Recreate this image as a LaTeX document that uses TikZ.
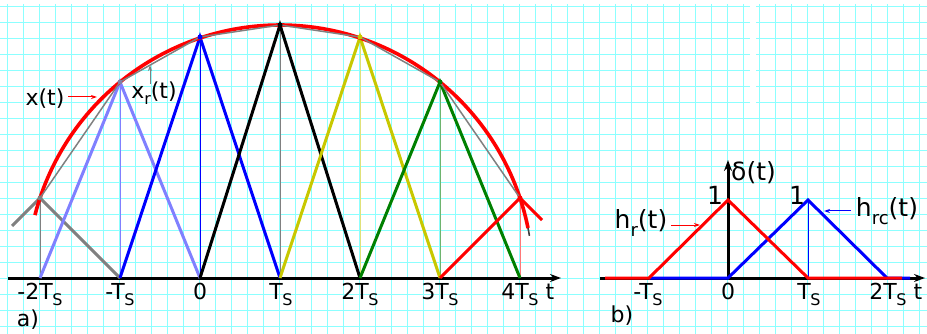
\documentclass[tikz,border=0pt]{standalone}
\usepackage{fontspec}
\setmainfont{DejaVu Sans}
\usetikzlibrary{arrows.meta}
\newcommand\mysub[1]{\raisebox{-0.3em}{\fontsize{16}{16}\selectfont #1}}
\newcommand\mysubb[1]{\raisebox{-0.3em}{\fontsize{18}{18}\selectfont #1}}
\newcommand\TS{T\kern-0.5pt\mysub{S}}
\definecolor{gridc}{RGB}{140,255,255}
\definecolor{lblue}{RGB}{128,128,255}
\definecolor{olivey}{RGB}{200,200,0}
\definecolor{lolive}{RGB}{225,225,120}
\definecolor{dgreen}{RGB}{0,128,0}
\definecolor{lgreen}{RGB}{110,180,110}
\definecolor{lred}{RGB}{255,120,120}
\begin{document}
\begin{tikzpicture}[x=1pt,y=-1pt,
  every node/.style={font=\fontsize{22}{26}\selectfont, inner sep=0pt},
  big/.style={font=\fontsize{25}{29}\selectfont},
  gridline/.style={gridc, line width=1.2pt},
  tri/.style={line width=3pt, line join=miter},
  thinv/.style={line width=0.9pt},
  axis/.style={line width=3pt, -{Stealth[length=11pt,width=8pt]}},
  ptr/.style={line width=1pt, -{Stealth[length=6pt,width=4pt]}},
  dot/.style={circle, fill, inner sep=0pt, minimum size=5pt}]
\useasboundingbox (0,0) rectangle (927,334);
\fill[white] (0,0) rectangle (927,334);
% grid
\foreach \i in {0,...,57} \draw[gridline] ({7.5+16*\i},4) -- ({7.5+16*\i},334);
\foreach \j in {0,...,20} \draw[gridline] (0,{6.5+16*\j}) -- (927,{6.5+16*\j});
\fill[white] (750,0) rectangle (756,110);

% ---------- panel a ----------
\coordinate (sm2) at (40,198);
\coordinate (sm1) at (120,82);
\coordinate (s0) at (200,37);
\coordinate (s1) at (280,25);
\coordinate (s2) at (360,37);
\coordinate (s3) at (440,82);
\coordinate (s4) at (520,198);
\coordinate (bm2) at (40,278);
\coordinate (bm1) at (120,278);
\coordinate (b0) at (200,278);
\coordinate (b1) at (280,278);
\coordinate (b2) at (360,278);
\coordinate (b3) at (440,278);
\coordinate (b4) at (520,278);
\coordinate (gL) at (12,226);
\coordinate (rE) at (542,220);
\coordinate (axL) at (8,278);
\coordinate (axR) at (561,278);

\draw[axis] (axL) -- (axR);

\draw[thinv, gray] (bm2) -- (sm2);
\draw[thinv, lblue] (bm1) -- (sm1);
\draw[thinv, blue] (b0) -- (s0);
\draw[thinv, gray] (b1) -- (s1);
\draw[thinv, lolive] (b2) -- (s2);
\draw[thinv, lgreen] (b3) -- (s3);
\draw[thinv, lred] (b4) -- (s4);

\draw[tri, gray] (gL) -- (sm2) -- (bm1);
\draw[tri, lblue] (bm2) -- (sm1) -- (b0);
\draw[tri, blue] (bm1) -- (s0) -- (b1);
\draw[tri, black] (b0) -- (s1) -- (b2);
\draw[tri, olivey] (b1) -- (s2) -- (b3);
\draw[tri, dgreen] (b2) -- (s3) -- (b4);
\draw[tri, red] (b3) -- (s4) -- (rE);

% original signal x(t)
\draw[black!75, line width=1.6pt] plot[domain=40:9.6, samples=40] ({280+253*cos(\x)},{278-253*sin(\x)});
\draw[red, line width=3.6pt] plot[domain=165.6:11.4, samples=120] ({280+253*cos(\x)},{278-253*sin(\x)});
% reconstructed xr(t)
\draw[gray, line width=1.5pt] (sm2) -- (sm1) -- (s0) -- (s1) -- (s2) -- (s3) -- (s4);

\node[dot, gray] at (sm2) {};
\node[dot, gray!70!lblue] at (sm1) {};
\node[dot, blue] at (s0) {};
\node[dot, black] at (s1) {};
\node[dot, olivey] at (s2) {};
\node[dot, dgreen] at (s3) {};
\node[dot, red] at (s4) {};

\node (lx) at (45,99) {x(t)};
\coordinate (lxs) at (68,97);
\coordinate (lxa) at (97,97);
\draw[ptr, red] (lxs) -- (lxa);
\node (lxr) at (154,93) {x\mysub{r}(t)};
\coordinate (lxra0) at (150,84);
\coordinate (lxra1) at (150,65);
\draw[ptr, gray] (lxra0) -- (lxra1);

\node[anchor=base] (tm2) at (40,299) {-2\TS};
\node[anchor=base] (tm1) at (120,299) {-\TS};
\node[anchor=base] (t0) at (200,299) {0};
\node[anchor=base] (t1) at (281,299) {\TS};
\node[anchor=base] (t2) at (360,299) {2\TS};
\node[anchor=base] (t3) at (440,299) {3\TS};
\node[anchor=base] (t4) at (520,299) {4\TS};
\node[anchor=base] (tt) at (550,299) {t};
\node (la) at (28,320) {a)};

% ---------- panel b ----------
\coordinate (qL) at (600,278);
\coordinate (qR) at (925,278);
\coordinate (qA) at (605,278);
\coordinate (qm1) at (649,278);
\coordinate (q0) at (728,278);
\coordinate (q0t) at (728,200);
\coordinate (q1) at (808,278);
\coordinate (q1t) at (808,200);
\coordinate (q2) at (887,278);
\coordinate (qrE) at (902,278);
\coordinate (qbE) at (910,278);
\coordinate (qT) at (728,160);

\draw[axis] (qL) -- (qR);
\draw[axis] (q0) -- (qT);
\draw[thinv, blue] (q1) -- (q1t);
\draw[tri, blue] (qm1) -- (q0) -- (q1t) -- (q2) -- (qbE);
\draw[tri, red] (qA) -- (qm1) -- (q0t) -- (q1) -- (qrE);

\node[big] (one0) at (715,195) {1};
\node[big] (one1) at (797,195) {1};
\node[big, anchor=west] (ld) at (731,173) {δ(t)};
\node[big] (lhr) at (641,223) {h\mysubb{r}(t)};
\coordinate (lhrs) at (671,225);
\coordinate (lhra) at (700,225);
\draw[ptr, red] (lhrs) -- (lhra);
\node[big] (lhrc) at (887,211) {h\mysubb{rc}(t)};
\coordinate (lhrcs) at (851,211);
\coordinate (lhrca) at (824,211);
\draw[ptr, blue] (lhrcs) -- (lhrca);

\node[anchor=base] (um1) at (648,299) {-\TS};
\node[anchor=base] (u0) at (728,299) {0};
\node[anchor=base] (u1) at (809,299) {\TS};
\node[anchor=base] (u2) at (888,299) {2\TS};
\node[anchor=base] (ut) at (918,299) {t};
\node (lb) at (622,316) {b)};
\end{tikzpicture}
\end{document}
